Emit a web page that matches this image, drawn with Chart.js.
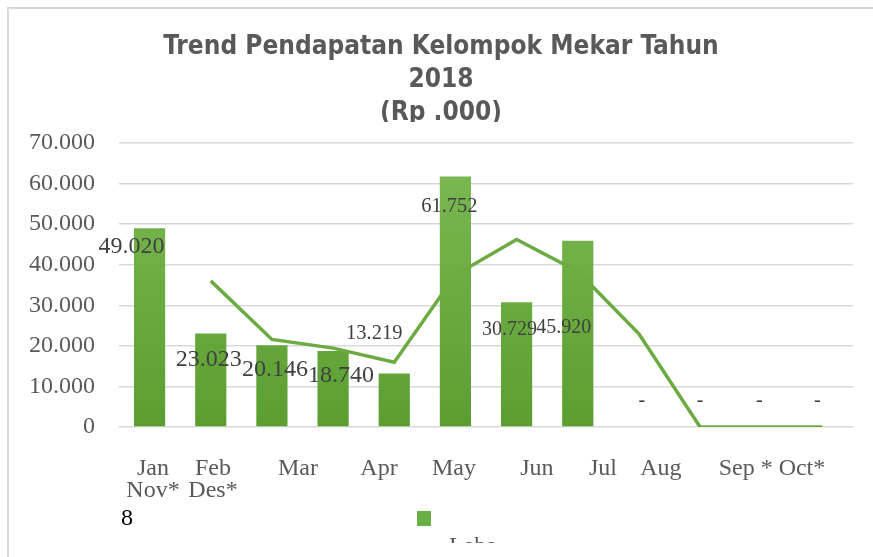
<!DOCTYPE html>
<html>
<head>
<meta charset="utf-8">
<script src="https://cdn.jsdelivr.net/npm/chart.js@4.4.0/dist/chart.umd.min.js"></script>
<style>
html,body{margin:0;padding:0;background:#fff;}
#wrap{position:relative;width:873px;height:557px;overflow:hidden;background:#fff;}
#c{position:absolute;left:0;top:0;}
#frame{position:absolute;left:7px;top:7px;width:900px;height:600px;border-top:2px solid #D9D9D9;border-left:2px solid #D9D9D9;pointer-events:none;}
.serif{font-family:"Liberation Serif","Times New Roman",serif;font-size:24px;line-height:1;}
</style>
</head>
<body>
<div id="wrap">
  <canvas id="c" width="873" height="557"></canvas>
  <div id="frame"></div>
  <div id="titleClip" style="position:absolute;left:360px;top:122px;width:180px;height:12px;background:#fff;"></div>
  <div class="serif" id="note" style="position:absolute;left:121px;top:505px;color:#000;"></div>
  <div id="legBox" style="position:absolute;left:417px;top:511px;width:14px;height:15px;background:#6AAF45;"></div>
  <div style="position:absolute;left:449px;top:530px;width:80px;height:13px;overflow:hidden;">
    <span class="serif" id="legText" style="position:absolute;left:0;top:3px;color:#595959;"></span>
  </div>
</div>
<script>
// ---- data ----
const categories = ["Jan","Feb","Mar","Apr","May","Jun","Jul","Aug","Sep","Oct","Nov","Des"];
const labaValues = [49020, 23023, 20146, 18740, 13219, 61752, 30729, 45920, 0, 0, 0, 0];
const trendValues = [null, 36021, 21585, 19443, 15980, 37486, 46241, 38325, 22960, 0, 0, 0];
const yTickValues = [0, 10000, 20000, 30000, 40000, 50000, 60000, 70000];
const xTickLabels = [["Jan","Nov*"], ["Feb","Des*"], "Mar", "Apr", "May", "Jun", "Jul", "Aug", "Sep * Oct*"];
const titleLines = ["Trend Pendapatan Kelompok Mekar Tahun", "2018", "(Rp .000)"];
const seriesName = "Laba";
const footNote = "8";

function fmt(v){
  if (v === 0) return "0";
  const th = Math.floor(v / 1000), r = Math.round(v % 1000);
  return th > 0 ? th + "." + String(r).padStart(3, "0") : String(r);
}

document.getElementById('note').textContent = footNote;
document.getElementById('legText').textContent = seriesName;

const serif = '"Liberation Serif", "Times New Roman", serif';

// value labels on the bars
const labelPlugin = {
  id: 'barValueLabels',
  afterDatasetsDraw(chart, args, opts) {
    const meta = chart.getDatasetMeta(1);
    const ctx = chart.ctx;
    ctx.save();
    ctx.textAlign = 'center';
    ctx.textBaseline = 'middle';
    meta.data.forEach((bar, i) => {
      const v = labaValues[i];
      const o = opts.offsets[i] || [0, 0];
      ctx.font = (opts.sizes[i] || 24) + 'px ' + serif;
      ctx.fillStyle = '#404040';
      ctx.fillText(v === 0 ? '-' : fmt(v), bar.x + o[0], bar.y + o[1]);
    });
    ctx.restore();
  }
};

// category tick labels, placed through the x scale at their (shifted) slots
const tickLabelPlugin = {
  id: 'slotTickLabels',
  afterDraw(chart, args, opts) {
    const xs = chart.scales.x;
    const ctx = chart.ctx;
    ctx.save();
    ctx.textAlign = 'center';
    ctx.textBaseline = 'middle';
    ctx.fillStyle = '#595959';
    ctx.font = '24px ' + serif;
    xTickLabels.forEach((lab, i) => {
      const x = xs.getPixelForValue(opts.slots[i]);
      const lines = Array.isArray(lab) ? lab : [lab];
      lines.forEach((ln, j) => {
        ctx.fillText(ln, x, chart.chartArea.bottom + opts.gap + j * opts.lineHeight);
      });
    });
    ctx.restore();
  }
};

new Chart(document.getElementById('c'), {
  type: 'bar',
  data: {
    labels: categories,
    datasets: [
      {
        type: 'line',
        label: 'Trend',
        data: trendValues,
        borderColor: '#6CAB41',
        borderWidth: 3.5,
        pointRadius: 0,
        tension: 0,
        fill: false,
        order: 0,
        xAxisID: 'x',
        yAxisID: 'y'
      },
      {
        type: 'bar',
        label: seriesName,
        data: labaValues,
        order: 1,
        categoryPercentage: 1,
        barPercentage: 0.51,
        backgroundColor: (c) => {
          const a = c.chart.chartArea;
          if (!a) return '#6AAF45';
          const g = c.chart.ctx.createLinearGradient(0, a.top, 0, a.bottom);
          g.addColorStop(0, '#7DBB55');
          g.addColorStop(1, '#5A9E30');
          return g;
        },
        xAxisID: 'x',
        yAxisID: 'y'
      }
    ]
  },
  options: {
    responsive: false,
    animation: false,
    events: [],
    layout: { padding: { left: 29, right: 20, top: 31, bottom: 130 } },
    plugins: {
      legend: { display: false },
      tooltip: { enabled: false },
      title: {
        display: true,
        text: titleLines,
        color: '#595959',
        font: { family: '"DejaVu Sans Condensed", "DejaVu Sans", sans-serif', size: 26, weight: 'bold', lineHeight: 1.27 },
        padding: { top: 0, bottom: 13 }
      },
      barValueLabels: {
        offsets: [[-18,19],[-2,26],[3,24],[8,25],[-20,-40],[-6,30],[-7,27],[-14,87],[3,-26],[0,-26],[-2,-26],[-5,-26]],
        sizes: [24,24,24,24,20.5,20.5,20,20,20,20,20,20]
      },
      slotTickLabels: {
        slots: [0.056, 1.037, 2.426, 3.75, 4.977, 6.333, 7.412, 8.36, 10.175],
        gap: 41.5,
        lineHeight: 22.5
      }
    },
    scales: {
      x: {
        type: 'category',
        display: false,
        offset: true,
        grid: { display: false }
      },
      y: {
        min: 0,
        max: 70000,
        afterBuildTicks: (s) => { s.ticks = yTickValues.map(v => ({ value: v })); },
        afterFit: (s) => { s.width = 90; },
        ticks: {
          padding: 24,
          color: '#595959',
          font: { family: serif, size: 24 },
          callback: (v) => fmt(v)
        },
        grid: { color: '#D9D9D9', lineWidth: 1.6, drawTicks: false },
        border: { display: false }
      }
    }
  },
  plugins: [labelPlugin, tickLabelPlugin]
});
</script>
</body>
</html>
